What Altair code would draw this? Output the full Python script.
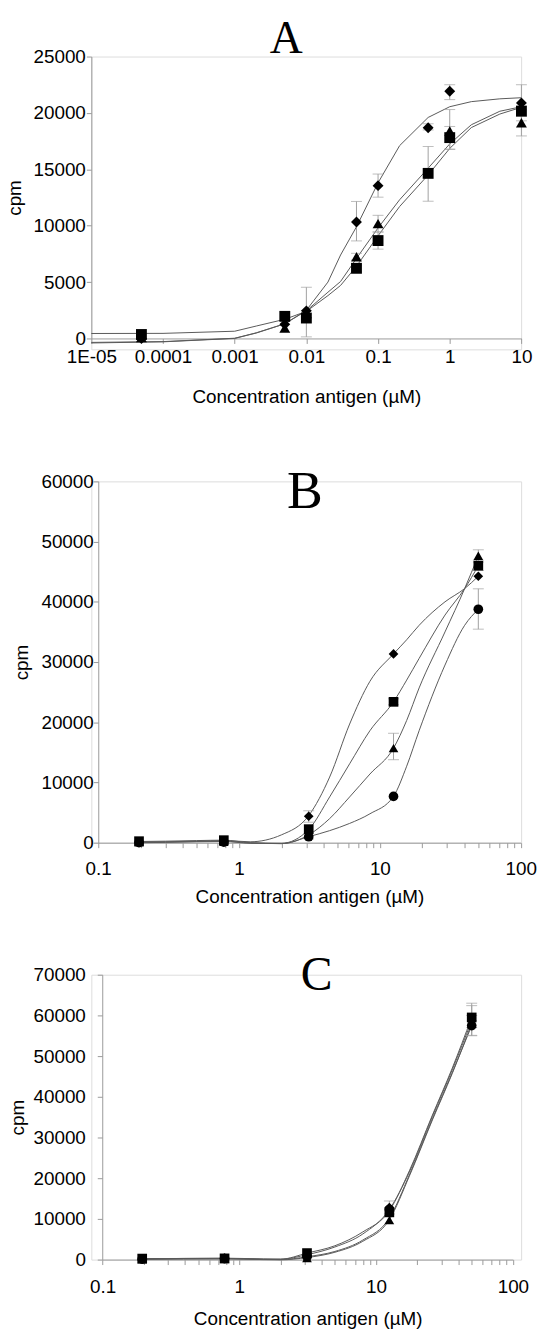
import altair as alt
import pandas as pd

# ---------------- Panel A data ----------------
A_x = [5e-5, 0.005, 0.01, 0.05, 0.1, 0.5, 1, 10]
A_diamond = [0, 1250, 2450, 10330, 13550, 18690, 21920, 20890]
A_square = [350, 1960, 1810, 6220, 8680, 14640, 17810, 20160]
A_triangle = [80, 930, 2200, 7240, 10180, None, 18400, 19130]
A_diamond_lo = [None, None, 140, 8650, 12530, 18490, 21180, 19300]
A_diamond_hi = [None, None, 4540, 12150, 14580, 19040, 22500, 22500]
A_square_lo = [None, None, None, 5900, 7920, 12170, 16780, 19700]
A_square_hi = [None, None, None, 6500, 9440, 17020, 18800, 20600]
A_triangle_lo = [None, None, None, 6950, 9440, None, 16780, 17960]
A_triangle_hi = [None, None, None, 7550, 10920, None, 20300, 20300]

A_curve_x = [1e-5, 1e-4, 1e-3, 2e-3, 5e-3, 0.01, 0.02, 0.03, 0.05, 0.1, 0.2, 0.5, 1, 2, 5, 10]
A_curve_diamond = [-400, -300, 0, 480, 1300, 2500, 5000, 7400, 9900, 13800, 17100, 19600, 20550, 21000, 21250, 21350]
A_curve_triangle = [-350, -280, 20, 500, 1300, 2450, 4100, 5050, 7100, 9800, 12300, 15100, 17250, 18950, 20150, 20550]
A_curve_square = [440, 450, 640, 1100, 1700, 2400, 3800, 4700, 6400, 9100, 11700, 14500, 16850, 18700, 19900, 20500]

# ---------------- Panel B data ----------------
B_x = [0.195, 0.78, 3.125, 12.5, 50]
B_diamond = [100, 300, 4390, 31350, 44250]
B_square = [250, 420, 2250, 23390, 46000]
B_triangle = [50, 150, 1270, 15700, 47650]
B_circle = [0, 100, 990, 7690, 38760]
B_diamond_lo = [None, None, 3400, None, None]
B_diamond_hi = [None, None, 5300, None, None]
B_square_lo = [None, None, None, 22900, 45200]
B_square_hi = [None, None, None, 23900, 46900]
B_triangle_lo = [None, None, None, 13780, 46600]
B_triangle_hi = [None, None, None, 18170, 48640]
B_circle_lo = [None, None, None, None, 35460]
B_circle_hi = [None, None, None, None, 42160]

B_curve_x = [0.195, 0.3, 0.5, 0.78, 1.2, 2, 3.125, 4.4, 6.1, 8.5, 12.5, 15.5, 19, 29, 40, 50]
B_curve_diamond = [100, 150, 250, 350, 150, 1300, 4500, 10900, 19700, 26800, 31350, 33700, 36100, 40000, 42200, 44250]
B_curve_square = [200, 250, 350, 420, 0, -100, 2200, 7600, 13100, 18600, 23400, 27000, 30600, 37800, 42200, 46000]
B_curve_triangle = [50, 100, 200, 250, -50, -150, 1300, 4000, 7600, 11400, 15700, 20300, 25700, 35000, 42200, 47650]
B_curve_circle = [0, 50, 150, 200, -100, -150, 1000, 2000, 3200, 4800, 7700, 12700, 18600, 29500, 36100, 38760]

# ---------------- Panel C data ----------------
C_x = [0.195, 0.78, 3.125, 12.5, 50]
C_diamond = [150, 350, 1000, 12800, 58700]
C_square = [250, 300, 1600, 11600, 59500]
C_triangle = [50, 150, 400, 9700, 58000]
C_circle = [100, 250, 700, 12300, 57500]
C_diamond_lo = [None, None, None, 11200, 55100]
C_diamond_hi = [None, None, None, 14400, 62400]
C_square_lo = [None, None, None, None, 57000]
C_square_hi = [None, None, None, None, 63000]
C_triangle_lo = [None, None, None, None, None]
C_triangle_hi = [None, None, None, None, None]
C_circle_lo = [None, None, None, None, 55000]
C_circle_hi = [None, None, None, None, 60000]

C_curve_x = [0.195, 0.78, 1.5, 2, 3.125, 5, 8, 12.5, 17.5, 25.8, 36, 50]
C_curve_square = [250, 300, 100, 100, 1600, 3400, 6800, 12000, 21800, 35500, 47000, 59500]
C_curve_diamond = [150, 350, 150, 100, 1200, 3100, 6300, 12300, 21500, 35200, 46600, 58700]
C_curve_triangle = [50, 150, 0, -50, 500, 1800, 4500, 9800, 20500, 34300, 45700, 58000]
C_curve_circle = [100, 250, 50, 0, 700, 2000, 4800, 10200, 20800, 34600, 45900, 57500]

A_xticks = [1e-5, 1e-4, 1e-3, 0.01, 0.1, 1, 10]
BC_xticks = [0.1, 0.2, 0.3, 0.4, 0.5, 0.6, 0.7, 0.8, 0.9,
             1, 2, 3, 4, 5, 6, 7, 8, 9,
             10, 20, 30, 40, 50, 60, 70, 80, 90, 100]
A_yticks = [0, 5000, 10000, 15000, 20000, 25000]
B_yticks = [0, 10000, 20000, 30000, 40000, 50000, 60000]
C_yticks = [0, 10000, 20000, 30000, 40000, 50000, 60000, 70000]

SHAPES = {"diamond": "diamond", "square": "square", "triangle": "triangle-up", "circle": "circle"}

FONT = "Liberation Sans"
FS = 19
AXIS_GRAY = "#9a9a9a"
CURVE_GRAY = "#5a5a5a"
ERR_GRAY = "#a0a0a0"


def build_frames(xs, series, errs, curves, curve_x):
    pts, bars, caps, lines = [], [], [], []
    for name, ys in series.items():
        lo, hi = errs[name]
        for i, x in enumerate(xs):
            if ys[i] is not None:
                pts.append({"x": x, "y": ys[i], "s": name})
            if lo[i] is not None and hi[i] is not None:
                bars.append({"x": x, "lo": lo[i], "hi": hi[i], "s": name})
                caps.append({"x": x, "y": lo[i]})
                caps.append({"x": x, "y": hi[i]})
    for name, ys in curves.items():
        for x, y in zip(curve_x, ys):
            lines.append({"x": x, "y": y, "s": name})
    return pd.DataFrame(pts), pd.DataFrame(bars), pd.DataFrame(caps), pd.DataFrame(lines)


def panel(letter, letter_x, letter_y, letter_size, frames, xdom, xrange_px, xticks,
          ydom, yticks, plot_h, group_h, yoffset, xlabpad, ylabpad, ytitle_x, xtitle_y, msize, interp, minor):
    pts, bars, caps, lines = frames
    if minor:
        lab = "(datum.value == 0.1 || datum.value == 1 || datum.value == 10 || datum.value == 100) ? datum.label : ''"
    else:
        lab = "datum.value < 0.00005 ? '1E-05' : datum.label"
    xaxis = alt.Axis(values=xticks, format="~g", labelExpr=lab, grid=False, offset=plot_h - group_h,
                     domainColor=AXIS_GRAY, tickColor=AXIS_GRAY, tickSize=5,
                     labelFont=FONT, labelFontSize=FS, labelColor="black", labelPadding=xlabpad,
                     labelOverlap=False, labelFlush=False,
                     title="Concentration antigen (µM)", titleFont=FONT, titleFontSize=FS,
                     titleFontWeight="normal", titleColor="black", titleBaseline="alphabetic",
                     titleY=xtitle_y)
    yaxis = alt.Axis(values=yticks, format="d", grid=False, offset=yoffset,
                     domainColor=AXIS_GRAY, tickColor=AXIS_GRAY, tickSize=5,
                     labelFont=FONT, labelFontSize=FS, labelColor="black", labelPadding=ylabpad,
                     labelOverlap=False, labelFlush=False,
                     title="cpm", titleFont=FONT, titleFontSize=FS, titleFontWeight="normal",
                     titleColor="black", titleBaseline="alphabetic", titleX=ytitle_x,
                     titleY=plot_h / 2)
    xs = alt.Scale(type="log", domain=xdom, range=xrange_px, nice=False)
    ys = alt.Scale(domain=ydom, nice=False, zero=False, range=[plot_h, 0])

    def X(f="x"):
        return alt.X(f"{f}:Q", scale=xs, axis=xaxis)

    def Y(f="y"):
        return alt.Y(f"{f}:Q", scale=ys, axis=yaxis)

    curve_layer = alt.Chart(lines).mark_line(color=CURVE_GRAY, strokeWidth=1, interpolate=interp).encode(
        x=X(), y=Y(), detail="s:N")
    bar_layer = alt.Chart(bars).mark_rule(color=ERR_GRAY, strokeWidth=1).encode(
        x=X(), y=Y("lo"), y2="hi:Q")
    cap_layer = alt.Chart(caps).mark_tick(color=ERR_GRAY, thickness=1, size=11, orient="horizontal").encode(
        x=X(), y=Y())
    pt_layer = alt.Chart(pts).mark_point(filled=True, opacity=1, color="black", size=msize, strokeWidth=0).encode(
        x=X(), y=Y(),
        shape=alt.Shape("s:N", scale=alt.Scale(domain=list(SHAPES.keys()), range=list(SHAPES.values())), legend=None))
    txt = alt.Chart(pd.DataFrame({"t": [letter]})).mark_text(
        font="Liberation Serif", fontSize=letter_size, baseline="alphabetic", align="center", color="black"
    ).encode(text="t:N", x=alt.value(letter_x), y=alt.value(letter_y))
    return alt.layer(curve_layer, bar_layer, cap_layer, pt_layer, txt).properties(width=433, height=group_h)


fa = build_frames(A_x,
                  {"diamond": A_diamond, "square": A_square, "triangle": A_triangle},
                  {"diamond": (A_diamond_lo, A_diamond_hi), "square": (A_square_lo, A_square_hi),
                   "triangle": (A_triangle_lo, A_triangle_hi)},
                  {"diamond": A_curve_diamond, "triangle": A_curve_triangle, "square": A_curve_square},
                  A_curve_x)
fb = build_frames(B_x,
                  {"diamond": B_diamond, "square": B_square, "triangle": B_triangle, "circle": B_circle},
                  {"diamond": (B_diamond_lo, B_diamond_hi), "square": (B_square_lo, B_square_hi),
                   "triangle": (B_triangle_lo, B_triangle_hi), "circle": (B_circle_lo, B_circle_hi)},
                  {"diamond": B_curve_diamond, "square": B_curve_square, "triangle": B_curve_triangle,
                   "circle": B_curve_circle},
                  B_curve_x)
fc = build_frames(C_x,
                  {"diamond": C_diamond, "square": C_square, "triangle": C_triangle, "circle": C_circle},
                  {"diamond": (C_diamond_lo, C_diamond_hi), "square": (C_square_lo, C_square_hi),
                   "triangle": (C_triangle_lo, C_triangle_hi), "circle": (C_circle_lo, C_circle_hi)},
                  {"diamond": C_curve_diamond, "square": C_curve_square, "triangle": C_curve_triangle,
                   "circle": C_curve_circle},
                  C_curve_x)

# A: plot 284 high, group 295 high so that a single spacing of 133 gives both gaps
pa = panel("A", 196.3, -3.3, 46, fa, [1e-5, 10], [0, 433.3], A_xticks,
           [0, 25000], A_yticks, 284, 295, 0, 4, 1, -71.3, 64.2, 120, "linear", False)
pb = panel("B", 215.1, 26.6, 54, fb, [0.1, 100], [6.9, 432.6], BC_xticks,
           [0, 60000], B_yticks, 364, 364, -7, 12, 0, -71.4, 60.5, 95, "monotone", True)
pc = panel("C", 227.1, 15.5, 48, fc, [0.1, 100], [11.3, 424.7], BC_xticks,
           [0, 70000], C_yticks, 287, 287, -11, 13, 12, -79.2, 65.0, 95, "monotone", True)

chart = alt.vconcat(pa, pb, pc, spacing=133, bounds="flush").properties(
    padding={"left": 5, "top": 11, "right": 0, "bottom": 0}
).configure_view(stroke=None).configure(background="white")

chart.save("out.html", embed_options={"renderer": "svg", "actions": False})
